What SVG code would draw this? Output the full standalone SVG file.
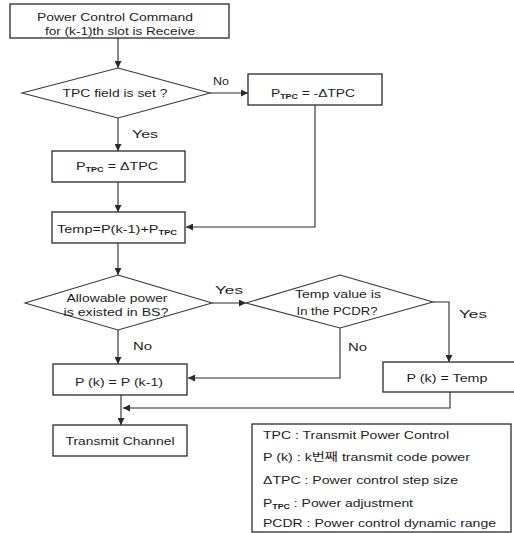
<svg xmlns="http://www.w3.org/2000/svg" width="514" height="533" viewBox="0 0 514 533">
<style>
.bx{fill:#fff;stroke:#2a2a2a;stroke-width:1.3}
.dm{fill:#fff;stroke:#3a3a3a;stroke-width:1.1}
.ln{fill:none;stroke:#2a2a2a;stroke-width:1.1}
.t{font-family:"Liberation Sans",Arial,"Noto Sans CJK KR",sans-serif;font-size:11px;fill:#1e1e1e}
.m{text-anchor:middle}
.s{font-size:7px;font-weight:bold}
</style>
<defs>
<marker id="ah" markerUnits="userSpaceOnUse" markerWidth="8" markerHeight="7" refX="7" refY="3.5" orient="auto">
<path d="M0,0 L7,3.5 L0,7 Z" fill="#2a2a2a"/>
</marker>
</defs>
<rect width="514" height="533" fill="#fff"/>

<g id="connectors">
<line class="ln" x1="118" y1="38" x2="118" y2="68" marker-end="url(#ah)"/>
<line class="ln" x1="210" y1="93" x2="248" y2="93" marker-end="url(#ah)"/>
<polyline class="ln" points="315,105 315,227 186,227" marker-end="url(#ah)"/>
<line class="ln" x1="118" y1="118" x2="118" y2="151" marker-end="url(#ah)"/>
<line class="ln" x1="118" y1="182" x2="118" y2="212" marker-end="url(#ah)"/>
<line class="ln" x1="118" y1="243" x2="118" y2="275" marker-end="url(#ah)"/>
<line class="ln" x1="212" y1="303" x2="246" y2="303" marker-end="url(#ah)"/>
<polyline class="ln" points="433,302 449,302 449,362" marker-end="url(#ah)"/>
<polyline class="ln" points="340,328 340,378 188,378" marker-end="url(#ah)"/>
<line class="ln" x1="118" y1="330" x2="118" y2="364" marker-end="url(#ah)"/>
<line class="ln" x1="121" y1="395" x2="121" y2="425" marker-end="url(#ah)"/>
<polyline class="ln" points="450,392 450,408 123,408" marker-end="url(#ah)"/>
<text class="t" x="213" y="85" textLength="16" lengthAdjust="spacingAndGlyphs">No</text>
<text class="t" x="132" y="138" textLength="26" lengthAdjust="spacingAndGlyphs">Yes</text>
<text class="t" x="215" y="294" textLength="28" lengthAdjust="spacingAndGlyphs">Yes</text>
<text class="t" x="133" y="350" textLength="19" lengthAdjust="spacingAndGlyphs">No</text>
<text class="t" x="459" y="318" textLength="28" lengthAdjust="spacingAndGlyphs">Yes</text>
<text class="t" x="348" y="351" textLength="19" lengthAdjust="spacingAndGlyphs">No</text>
</g>

<g id="start">
<rect class="bx" x="10" y="4" width="219" height="34"/>
<text class="t m" x="115" y="21" textLength="156" lengthAdjust="spacingAndGlyphs">Power Control Command</text>
<text class="t m" x="120" y="35" textLength="150" lengthAdjust="spacingAndGlyphs">for (k-1)th slot is Receive</text>
</g>

<g id="tpc-set">
<polygon class="dm" points="118,68 210,93 118,118 22,93"/>
<text class="t m" x="115" y="97" textLength="105" lengthAdjust="spacingAndGlyphs">TPC field is set ?</text>
</g>

<g id="ptpc-neg">
<rect class="bx" x="248" y="74" width="134" height="31"/>
<text class="t m" x="313" y="97" textLength="84" lengthAdjust="spacingAndGlyphs">P<tspan class="s" dy="2">TPC</tspan><tspan dy="-2"> = -ΔTPC</tspan></text>
</g>

<g id="ptpc-pos">
<rect class="bx" x="52" y="151" width="133" height="31"/>
<text class="t m" x="117" y="170" textLength="82" lengthAdjust="spacingAndGlyphs">P<tspan class="s" dy="2">TPC</tspan><tspan dy="-2"> = ΔTPC</tspan></text>
</g>

<g id="temp">
<rect class="bx" x="52" y="212" width="133" height="31"/>
<text class="t m" x="117" y="233" textLength="120" lengthAdjust="spacingAndGlyphs">Temp=P(k-1)+P<tspan class="s" dy="2">TPC</tspan></text>
</g>

<g id="allowable">
<polygon class="dm" points="118,275 212,303 118,330 25,303"/>
<text class="t m" x="117" y="302" textLength="101" lengthAdjust="spacingAndGlyphs">Allowable power</text>
<text class="t m" x="116" y="316" textLength="105" lengthAdjust="spacingAndGlyphs">is existed in BS?</text>
</g>

<g id="pcdr-check">
<polygon class="dm" points="340,275 433,302 340,328 246,303"/>
<text class="t m" x="338" y="298" textLength="86" lengthAdjust="spacingAndGlyphs">Temp value is</text>
<text class="t m" x="337" y="315" textLength="81" lengthAdjust="spacingAndGlyphs">In the PCDR?</text>
</g>

<g id="pk-temp">
<rect class="bx" x="383" y="362" width="136" height="30"/>
<text class="t m" x="447" y="382" textLength="81" lengthAdjust="spacingAndGlyphs">P (k) = Temp</text>
</g>

<g id="pk-prev">
<rect class="bx" x="53" y="364" width="134" height="31"/>
<text class="t m" x="119" y="386" textLength="88" lengthAdjust="spacingAndGlyphs">P (k) = P (k-1)</text>
</g>

<g id="transmit">
<rect class="bx" x="53" y="425" width="134" height="31"/>
<text class="t m" x="120" y="445" textLength="109" lengthAdjust="spacingAndGlyphs">Transmit Channel</text>
</g>

<g id="legend">
<rect class="bx" x="252" y="424" width="259" height="108"/>
<text class="t" x="263" y="439" textLength="186" lengthAdjust="spacingAndGlyphs">TPC : Transmit Power Control</text>
<text class="t" x="263" y="461" textLength="207" lengthAdjust="spacingAndGlyphs">P (k) : k번째 transmit code power</text>
<text class="t" x="263" y="484" textLength="195" lengthAdjust="spacingAndGlyphs">ΔTPC :  Power control step size</text>
<text class="t" x="263" y="507" textLength="150" lengthAdjust="spacingAndGlyphs">P<tspan class="s" dy="2">TPC</tspan><tspan dy="-2"> : Power adjustment</tspan></text>
<text class="t" x="263" y="527" textLength="233" lengthAdjust="spacingAndGlyphs">PCDR : Power control dynamic range</text>
</g>
</svg>
